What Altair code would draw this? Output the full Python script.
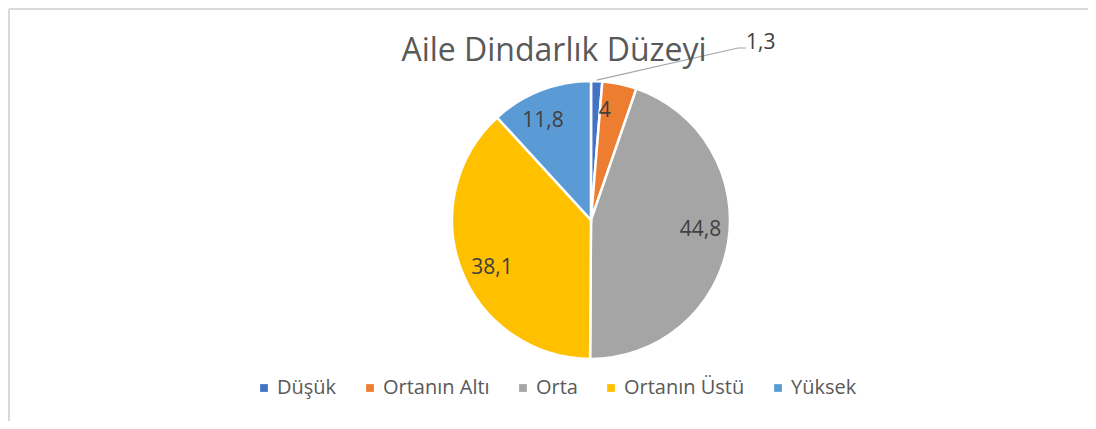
import math
import altair as alt
import pandas as pd

categories = ["Düşük", "Ortanın Altı", "Orta", "Ortanın Üstü", "Yüksek"]
values = [1.3, 4, 44.8, 38.1, 11.8]
labels = ["1,3", "4", "44,8", "38,1", "11,8"]
colors = ["#4472C4", "#ED7D31", "#A5A5A5", "#FFC000", "#5B9BD5"]
title_text = "Aile Dindarlık Düzeyi"

FONT = "Open Sans"
W, H = 1080, 413
CX, CY, R = 582, 211, 139

df = pd.DataFrame({"cat": categories, "val": values, "label": labels, "order": list(range(len(values)))})

base = alt.Chart(df).encode(
    theta=alt.Theta("val:Q", stack=True),
    order=alt.Order("order:Q"),
)

pie = base.mark_arc(outerRadius=R, stroke="white", strokeWidth=2.5).encode(
    color=alt.Color(
        "cat:N",
        scale=alt.Scale(domain=categories, range=colors),
        sort=categories,
        legend=alt.Legend(
            title=None,
            orient="none",
            direction="horizontal",
            columns=5,
            legendX=245,
            legendY=369,
            symbolType="square",
            symbolSize=60,
            symbolStrokeWidth=0,
            labelFont=FONT,
            labelFontSize=20,
            labelColor="#595959",
            labelOffset=3,
            columnPadding=23,
        ),
    ),
    x=alt.value(CX),
    y=alt.value(CY),
)

inner = base.transform_filter("datum.val > 2").mark_text(
    radius=110, font=FONT, fontSize=21, color="#404040", align="center", baseline="middle"
).encode(text="label:N", x=alt.value(CX), y=alt.value(CY))

# leader line for the small slice, starting at the middle of its arc
mid = values[0] / 2 / sum(values) * 2 * math.pi
sx = CX + (R + 1) * math.sin(mid)
sy = CY - (R + 1) * math.cos(mid)
ex, ey = CX + 147, CY - 172
leader_df = pd.DataFrame({"px": [sx, ex, ex + 8], "py": [sy, ey, ey], "i": [0, 1, 2]})
leader = alt.Chart(leader_df).mark_line(color="#a6a6a6", strokeWidth=1.2).encode(
    x=alt.X("px:Q", scale=None), y=alt.Y("py:Q", scale=None), order="i:Q"
)
outer_label = alt.Chart(pd.DataFrame({"label": [labels[0]]})).mark_text(
    font=FONT, fontSize=21, color="#404040", align="left", baseline="middle"
).encode(text="label:N", x=alt.value(ex + 8), y=alt.value(ey - 5))

title = alt.Chart(pd.DataFrame({"t": [title_text]})).mark_text(
    font=FONT, fontSize=32, color="#595959", align="center", baseline="middle"
).encode(text="t:N", x=alt.value(545), y=alt.value(42))

frame_left = alt.Chart(pd.DataFrame({"a": [0]})).mark_rule(color="#d9d9d9", strokeWidth=2).encode(
    x=alt.value(0), y=alt.value(0), y2=alt.value(H)
)
frame_top = alt.Chart(pd.DataFrame({"a": [0]})).mark_rule(color="#d9d9d9", strokeWidth=2).encode(
    x=alt.value(0), x2=alt.value(W), y=alt.value(0)
)

chart = alt.layer(frame_left, frame_top, pie, inner, leader, outer_label, title).properties(
    width=W,
    height=H,
    padding=0,
    autosize=alt.AutoSizeParams(type="fit", contains="padding"),
).configure_view(stroke=None)

chart.save("out.html", embed_options={"renderer": "svg", "actions": False})
